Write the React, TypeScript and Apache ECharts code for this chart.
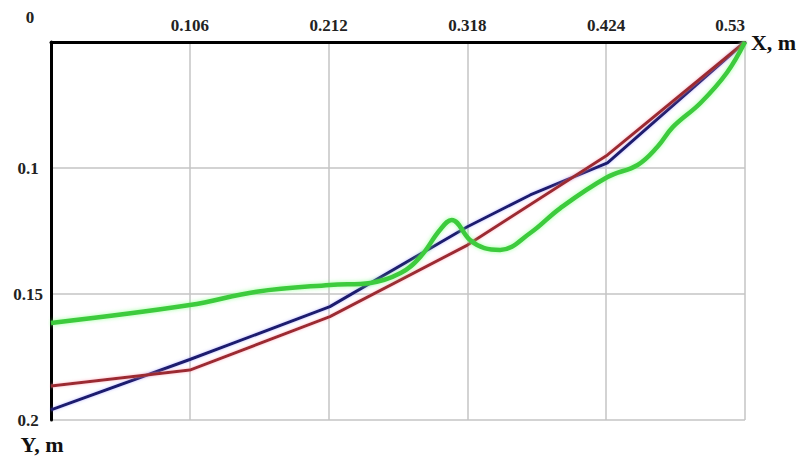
import React, { useEffect, useRef } from "react";
import * as echarts from "echarts";

// Horizontal distance X (m) of each profile vertex
const xTicks = [0, 0.106, 0.212, 0.318, 0.424, 0.53];
const yTicks = [0.05, 0.1, 0.15, 0.2];

// Blue profile
const blueX = [0, 0.106, 0.213, 0.318, 0.366, 0.425, 0.53];
const blueY = [0.196, 0.176, 0.155, 0.1233, 0.1107, 0.098, 0.05];

// Red profile
const redX = [0, 0.106, 0.213, 0.318, 0.425, 0.53];
const redY = [0.1865, 0.1802, 0.159, 0.1306, 0.0948, 0.05];

// Green profile
const greenX = [0, 0.106, 0.157, 0.213, 0.244, 0.267, 0.282, 0.297, 0.306, 0.32, 0.331, 0.343, 0.366, 0.389, 0.425, 0.448, 0.463, 0.475, 0.496, 0.516, 0.53];
const greenY = [0.1615, 0.1544, 0.1491, 0.1464, 0.1456, 0.1417, 0.1353, 0.1246, 0.1206, 0.1286, 0.1318, 0.1325, 0.1258, 0.1159, 0.1036, 0.0988, 0.0917, 0.0837, 0.0742, 0.0623, 0.05];

const pairs = (xs: number[], ys: number[]) => xs.map((x, i) => [x, ys[i]]);

const FONT = "'Liberation Serif', 'DejaVu Serif', serif";
const TICK_SIZE = 17;
const NAME_SIZE = 22;

export default function App() {
  const ref = useRef<HTMLDivElement>(null);

  useEffect(() => {
    if (!ref.current) return;
    const chart = echarts.init(ref.current, undefined, { renderer: "svg" });
    chart.setOption({
      animation: false,
      backgroundColor: "#ffffff",
      grid: { left: 51, top: 42, right: 61, bottom: 36, containLabel: false },
      xAxis: {
        type: "value",
        position: "top",
        min: xTicks[0],
        max: xTicks[xTicks.length - 1],
        interval: xTicks[1],
        name: "X, m",
        nameLocation: "end",
        nameGap: 4,
        nameTextStyle: { fontFamily: FONT, fontSize: NAME_SIZE, fontWeight: "bold", color: "#111", padding: [0, 0, -18, 0] },
        axisLine: { show: true, onZero: false, lineStyle: { color: "#000", width: 3 } },
        axisTick: { show: false },
        axisLabel: {
          show: true,
          margin: 8,
          alignMaxLabel: "right",
          fontFamily: FONT,
          fontSize: TICK_SIZE,
          fontWeight: "bold",
          color: "#222",
          formatter: (v: number) => {
            const t = xTicks.reduce((a, b) => (Math.abs(b - v) < Math.abs(a - v) ? b : a));
            return t === 0 ? "{z|0}" : String(t);
          },
          rich: {
            z: { fontFamily: FONT, fontSize: TICK_SIZE, fontWeight: "bold", color: "#222", padding: [0, 42, 8, 0] },
          },
        },
        splitLine: { show: true, lineStyle: { color: "#c4c4c4", width: 1.5 } },
      },
      yAxis: {
        type: "value",
        inverse: true,
        min: yTicks[0],
        max: yTicks[yTicks.length - 1],
        interval: 0.05,
        name: "Y, m",
        nameLocation: "end",
        nameGap: 13,
        nameTextStyle: { fontFamily: FONT, fontSize: NAME_SIZE, fontWeight: "bold", color: "#111", padding: [0, 18, 0, 0] },
        axisLine: { show: true, onZero: false, lineStyle: { color: "#000", width: 3 } },
        axisTick: { show: false },
        axisLabel: {
          show: true,
          showMinLabel: false,
          margin: 23,
          align: "center",
          fontFamily: FONT,
          fontSize: TICK_SIZE,
          fontWeight: "bold",
          color: "#222",
          formatter: (v: number) => {
            const t = yTicks.reduce((a, b) => (Math.abs(b - v) < Math.abs(a - v) ? b : a));
            return String(t);
          },
        },
        splitLine: { show: true, lineStyle: { color: "#c4c4c4", width: 1.5 } },
      },
      series: [
        {
          name: "blue",
          type: "line",
          data: pairs(blueX, blueY),
          showSymbol: false,
          smooth: false,
          lineStyle: { color: "#1c1a6e", width: 3, shadowColor: "rgba(120,120,255,0.5)", shadowBlur: 3 },
          z: 3,
        },
        {
          name: "red",
          type: "line",
          data: pairs(redX, redY),
          showSymbol: false,
          smooth: false,
          lineStyle: { color: "#9c2b30", width: 3, shadowColor: "rgba(255,150,170,0.7)", shadowBlur: 3 },
          z: 4,
        },
        {
          name: "green",
          type: "line",
          data: pairs(greenX, greenY),
          showSymbol: false,
          smooth: 0.4,
          lineStyle: { color: "#3ccb3c", width: 4.5, shadowColor: "rgba(120,255,120,0.7)", shadowBlur: 4 },
          z: 5,
        },
      ],
    });
    return () => chart.dispose();
  }, []);

  return (
    <div
      ref={ref}
      style={{ position: "absolute", left: 0, top: 0, width: 806, height: 456 }}
    />
  );
}
